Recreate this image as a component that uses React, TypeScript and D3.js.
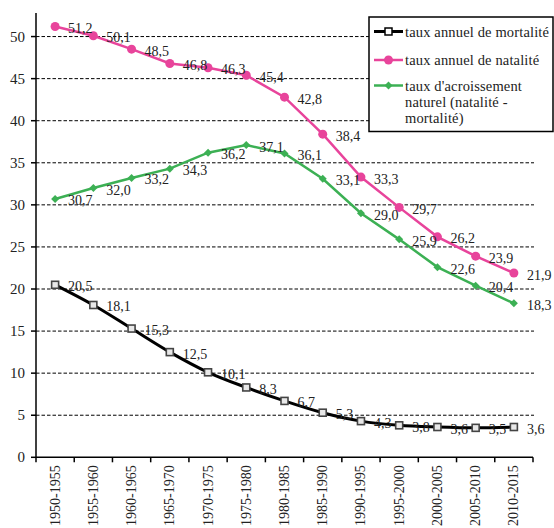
import React from "react";
import * as d3 from "d3";

const periods = [
  "1950-1955", "1955-1960", "1960-1965", "1965-1970", "1970-1975", "1975-1980",
  "1980-1985", "1985-1990", "1990-1995", "1995-2000", "2000-2005", "2005-2010", "2010-2015",
];
const mortalite = [20.5, 18.1, 15.3, 12.5, 10.1, 8.3, 6.7, 5.3, 4.3, 3.8, 3.6, 3.5, 3.6];
const natalite = [51.2, 50.1, 48.5, 46.8, 46.3, 45.4, 42.8, 38.4, 33.3, 29.7, 26.2, 23.9, 21.9];
const accroissement = [30.7, 32.0, 33.2, 34.3, 36.2, 37.1, 36.1, 33.1, 29.0, 25.9, 22.6, 20.4, 18.3];
const yTicks = [0, 5, 10, 15, 20, 25, 30, 35, 40, 45, 50];
const legendMortalite = ["taux annuel de mortalité"];
const legendNatalite = ["taux annuel de natalité"];
const legendAccroissement = ["taux d'acroissement", "naturel (natalité -", "mortalité)"];

const W = 554;
const H = 528;
const left = 36;
const right = 533;
const top = 13;
const bottom = 457.3;
const PINK = "#E8449B";
const GREEN = "#3CB054";
const FONT = "Liberation Serif";

const fmt = (v: number) => v.toFixed(1).replace(".", ",");

export default function App() {
  const x = d3.scaleBand<string>().domain(periods).range([left, right]);
  const y = d3.scaleLinear().domain([0, 52.8]).range([bottom, top]);
  const cx = (i: number) => (x(periods[i]) as number) + x.bandwidth() / 2;

  const lineLinear = d3
    .line<number>()
    .x((_, i) => cx(i))
    .y((d) => y(d));
  const lineSmooth = d3
    .line<number>()
    .x((_, i) => cx(i))
    .y((d) => y(d))
    .curve(d3.curveCatmullRom.alpha(0.5));

  const labels = (vals: number[], key: string) =>
    vals.map((v, i) => (
      <text
        key={key + i}
        x={cx(i) + 13}
        y={y(v) + 2}
        dominantBaseline="central"
        fontSize={14}
        fontFamily={FONT}
        fill="#222"
      >
        {fmt(v)}
      </text>
    ));

  const boundaries = periods.map((p) => x(p) as number).concat([right]);

  const lgX = 369;
  const lgY = 17;
  const lgFont = 14.5;
  const lgSpacing = 0.15;

  return (
    <svg width={W} height={H} style={{ position: "absolute", left: 0, top: 0, background: "#fff" }}>
      {yTicks.filter((t) => t > 0).map((t) => (
        <line
          key={"g" + t}
          x1={left}
          x2={right + 1}
          y1={y(t)}
          y2={y(t)}
          stroke="#000"
          strokeWidth={1}
          strokeDasharray="3.5,2"
        />
      ))}
      <line x1={left} x2={left} y1={top} y2={bottom} stroke="#000" strokeWidth={1.5} />
      {yTicks.map((t) => (
        <g key={"yt" + t}>
          <line x1={left - 5} x2={left} y1={y(t)} y2={y(t)} stroke="#000" strokeWidth={1.5} />
          <text
            x={left - 11}
            y={y(t)}
            textAnchor="end"
            dominantBaseline="central"
            fontSize={15}
            fontFamily={FONT}
            fill="#222"
          >
            {t}
          </text>
        </g>
      ))}
      <line x1={left} x2={right} y1={bottom} y2={bottom} stroke="#000" strokeWidth={1.5} />
      {boundaries.map((b, i) => (
        <line key={"xt" + i} x1={b} x2={b} y1={bottom} y2={bottom + 5} stroke="#000" strokeWidth={1.5} />
      ))}
      {periods.map((p, i) => (
        <text
          key={"xl" + i}
          transform={`translate(${cx(i)},${bottom + 8}) rotate(-90)`}
          textAnchor="end"
          dominantBaseline="central"
          fontSize={14}
          fontFamily={FONT}
          fill="#222"
        >
          {p}
        </text>
      ))}

      <path d={lineSmooth(mortalite) as string} fill="none" stroke="#000" strokeWidth={3} />
      <path d={lineLinear(natalite) as string} fill="none" stroke={PINK} strokeWidth={2.5} />
      <path d={lineLinear(accroissement) as string} fill="none" stroke={GREEN} strokeWidth={2.5} />

      {mortalite.map((v, i) => (
        <rect
          key={"m" + i}
          x={cx(i) - 3.5}
          y={y(v) - 3.5}
          width={7}
          height={7}
          fill="#e8e8e8"
          stroke="#444"
          strokeWidth={1.6}
        />
      ))}
      {natalite.map((v, i) => (
        <circle key={"n" + i} cx={cx(i)} cy={y(v)} r={4.5} fill={PINK} />
      ))}
      {accroissement.map((v, i) => (
        <path
          key={"a" + i}
          d={`M${cx(i)},${y(v) - 4}L${cx(i) + 4},${y(v)}L${cx(i)},${y(v) + 4}L${cx(i) - 4},${y(v)}Z`}
          fill={GREEN}
        />
      ))}

      {labels(mortalite, "lm")}
      {labels(natalite, "ln")}
      {labels(accroissement, "la")}

      <rect x={lgX} y={lgY} width={W - lgX - 1} height={114.5} fill="#fff" stroke="#000" strokeWidth={1.5} />
      <g>
        <line x1={lgX + 5} x2={lgX + 34} y1={lgY + 14.5} y2={lgY + 14.5} stroke="#000" strokeWidth={3} />
        <rect x={lgX + 16} y={lgY + 11} width={7} height={7} fill="#fff" stroke="#000" strokeWidth={1.5} />
        {legendMortalite.map((s, k) => (
          <text key={"lt1" + k} x={lgX + 36} y={lgY + 14.5 + k * 16} dominantBaseline="central" fontSize={lgFont} letterSpacing={lgSpacing} fontFamily={FONT} fill="#222">
            {s}
          </text>
        ))}
        <line x1={lgX + 5} x2={lgX + 34} y1={lgY + 43} y2={lgY + 43} stroke={PINK} strokeWidth={2.5} />
        <circle cx={lgX + 19.5} cy={lgY + 43} r={4.5} fill={PINK} />
        {legendNatalite.map((s, k) => (
          <text key={"lt2" + k} x={lgX + 36} y={lgY + 43 + k * 16} dominantBaseline="central" fontSize={lgFont} letterSpacing={lgSpacing} fontFamily={FONT} fill="#222">
            {s}
          </text>
        ))}
        <line x1={lgX + 5} x2={lgX + 34} y1={lgY + 68.5} y2={lgY + 68.5} stroke={GREEN} strokeWidth={2.5} />
        <path
          d={`M${lgX + 19.5},${lgY + 64.5}L${lgX + 23.5},${lgY + 68.5}L${lgX + 19.5},${lgY + 72.5}L${lgX + 15.5},${lgY + 68.5}Z`}
          fill={GREEN}
        />
        {legendAccroissement.map((s, k) => (
          <text key={"lt3" + k} x={lgX + 36} y={lgY + 68.5 + k * 16} dominantBaseline="central" fontSize={lgFont} letterSpacing={lgSpacing} fontFamily={FONT} fill="#222">
            {s}
          </text>
        ))}
      </g>
    </svg>
  );
}
